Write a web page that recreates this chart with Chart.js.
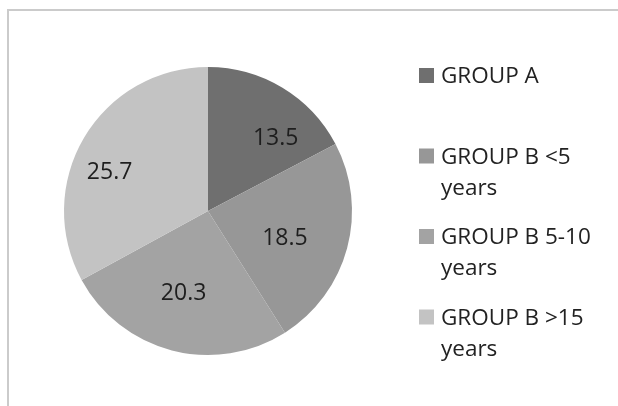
<!DOCTYPE html>
<html>
<head>
<meta charset="utf-8">
<script src="https://cdn.jsdelivr.net/npm/chart.js@4"></script>
<style>
  html, body { margin: 0; padding: 0; background: #fff; }
  #wrap { width: 618px; height: 406px; position: relative; }
</style>
</head>
<body>
<div id="wrap"><canvas id="c" width="618" height="406"></canvas></div>
<script>
const groups = ['GROUP A', 'GROUP B <5 years', 'GROUP B 5-10 years', 'GROUP B >15 years'];
const legendLines = [['GROUP A'], ['GROUP B <5', 'years'], ['GROUP B 5-10', 'years'], ['GROUP B >15', 'years']];
const shares = [13.5, 18.5, 20.3, 25.7];
const greys = ['#6f6f6f', '#979797', '#a3a3a3', '#c3c3c3'];

// frame + white background
const frame = {
  id: 'frame',
  beforeDraw(chart) {
    const c = chart.ctx;
    c.save();
    c.fillStyle = '#fff';
    c.fillRect(0, 0, chart.width, chart.height);
    c.strokeStyle = '#cbcbcb';
    c.lineWidth = 2;
    c.beginPath();
    c.moveTo(8, chart.height);
    c.lineTo(8, 10);
    c.lineTo(chart.width, 10);
    c.stroke();
    c.restore();
  }
};

// value labels inside slices, nudged like the original
const sliceLabels = {
  id: 'sliceLabels',
  afterDatasetsDraw(chart, args, opts) {
    const c = chart.ctx;
    const meta = chart.getDatasetMeta(0);
    c.save();
    c.font = opts.font;
    c.fillStyle = '#1e1e1e';
    c.textAlign = 'center';
    c.textBaseline = 'middle';
    meta.data.forEach((arc, i) => {
      const p = arc.getProps(['x', 'y', 'startAngle', 'endAngle', 'outerRadius'], true);
      const a = (p.startAngle + p.endAngle) / 2 + opts.shift[i] * Math.PI / 180;
      const r = p.outerRadius * opts.dist[i];
      c.fillText(chart.data.datasets[0].data[i], p.x + Math.cos(a) * r, p.y + Math.sin(a) * r);
    });
    c.restore();
  }
};

// legend on the right with wrapped labels
const sideLegend = {
  id: 'sideLegend',
  afterDraw(chart, args, opts) {
    const c = chart.ctx;
    const colors = chart.data.datasets[0].backgroundColor;
    c.save();
    c.font = opts.font;
    c.textBaseline = 'alphabetic';
    legendLines.forEach((lines, i) => {
      const y = opts.top + i * opts.itemGap;
      c.fillStyle = colors[i];
      c.fillRect(opts.x, y - 15, 15, 15);
      c.fillStyle = '#222';
      lines.forEach((t, j) => c.fillText(t, opts.x + 22, y + j * opts.lineGap));
    });
    c.restore();
  }
};

new Chart(document.getElementById('c'), {
  type: 'pie',
  data: {
    labels: groups,
    datasets: [{
      data: shares,
      backgroundColor: greys,
      borderWidth: 0
    }]
  },
  options: {
    responsive: false,
    animation: false,
    layout: { padding: { left: 63, top: 67, right: 265, bottom: 51 } },
    plugins: {
      legend: { display: false },
      tooltip: { enabled: false },
      sliceLabels: {
        font: '23px "Open Sans", sans-serif',
        shift: [12, 4.6, 1.9, -9.3],
        dist: [0.687, 0.567, 0.599, 0.734]
      },
      sideLegend: {
        font: '22.5px "Open Sans", sans-serif',
        x: 419, top: 83, itemGap: 80.5, lineGap: 31
      }
    }
  },
  plugins: [frame, sliceLabels, sideLegend]
});
</script>
</body>
</html>
